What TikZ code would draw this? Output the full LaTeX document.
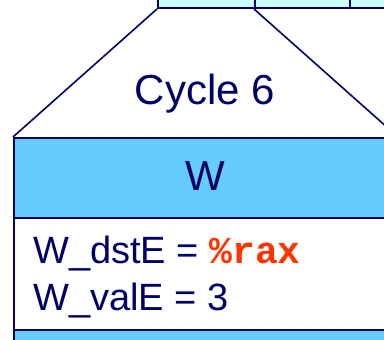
\documentclass[tikz,border=0pt]{standalone}
\usepackage{fontspec}
\setmainfont{Liberation Sans}
\setmonofont{Liberation Mono}
\usepackage{tikz}
\usetikzlibrary{positioning}
\definecolor{navycolor}{RGB}{0,0,102}
\definecolor{cellcolor}{RGB}{204,255,255}
\definecolor{stagecolor}{RGB}{102,204,255}
\definecolor{regcolor}{RGB}{255,51,0}
\tikzset{
  pipecell/.style={draw=navycolor, line width=2pt, fill=cellcolor,
                   minimum width=#1, minimum height=40pt, inner sep=0pt,
                   anchor=south west},
  pipecell/.default=97pt,
  stagebox/.style={draw=navycolor, line width=2pt, fill=#1,
                   minimum width=420pt, inner sep=0pt, anchor=north west},
  stagebox/.default=stagecolor,
  zoomline/.style={draw=navycolor, line width=1.6pt},
  bigtext/.style={font=\fontsize{42}{48}\selectfont, text=navycolor, inner sep=0pt},
  valtext/.style={font=\fontsize{38}{44}\selectfont, text=navycolor, inner sep=0pt,
                  anchor=base west},
}

\begin{document}
\begin{tikzpicture}[x=1pt, y=-1pt]
  \useasboundingbox (0,0) rectangle (384,340);
  \clip (0,0) rectangle (384,340);

  % Pipeline row (cut off at the top)
  \node[pipecell] (cellA) at (157,9) {};
  \node[pipecell=95pt] (cellB) at (254,9) {};
  \node[pipecell=60pt] (cellC) at (349,9) {};

  % Stage W, zoomed
  \node[stagebox, minimum height=80pt] (wtitle) at (13,137) {};
  \node[stagebox=white, minimum height=112pt] (wbody) at (13,217) {};
  \node[stagebox, minimum height=40pt] (wnext) at (13,329) {};

  % Zoom lines
  \coordinate (zoomR) at (398,137);
  \draw[zoomline] (cellA.south west) -- (wtitle.north west);
  \draw[zoomline] (cellB.south west) -- (zoomR);

  % Labels
  \node[bigtext] (cycle) at (205,94) {Cycle 6};
  \node[bigtext] (wlabel) at (205,176) {W};
  \node[valtext] (dste) at (33,263)
    {W\_dstE = \textcolor{regcolor}{\ttfamily\bfseries\%rax}};
  \node[valtext] (vale) at (33,310) {W\_valE = 3};
\end{tikzpicture}
\end{document}
